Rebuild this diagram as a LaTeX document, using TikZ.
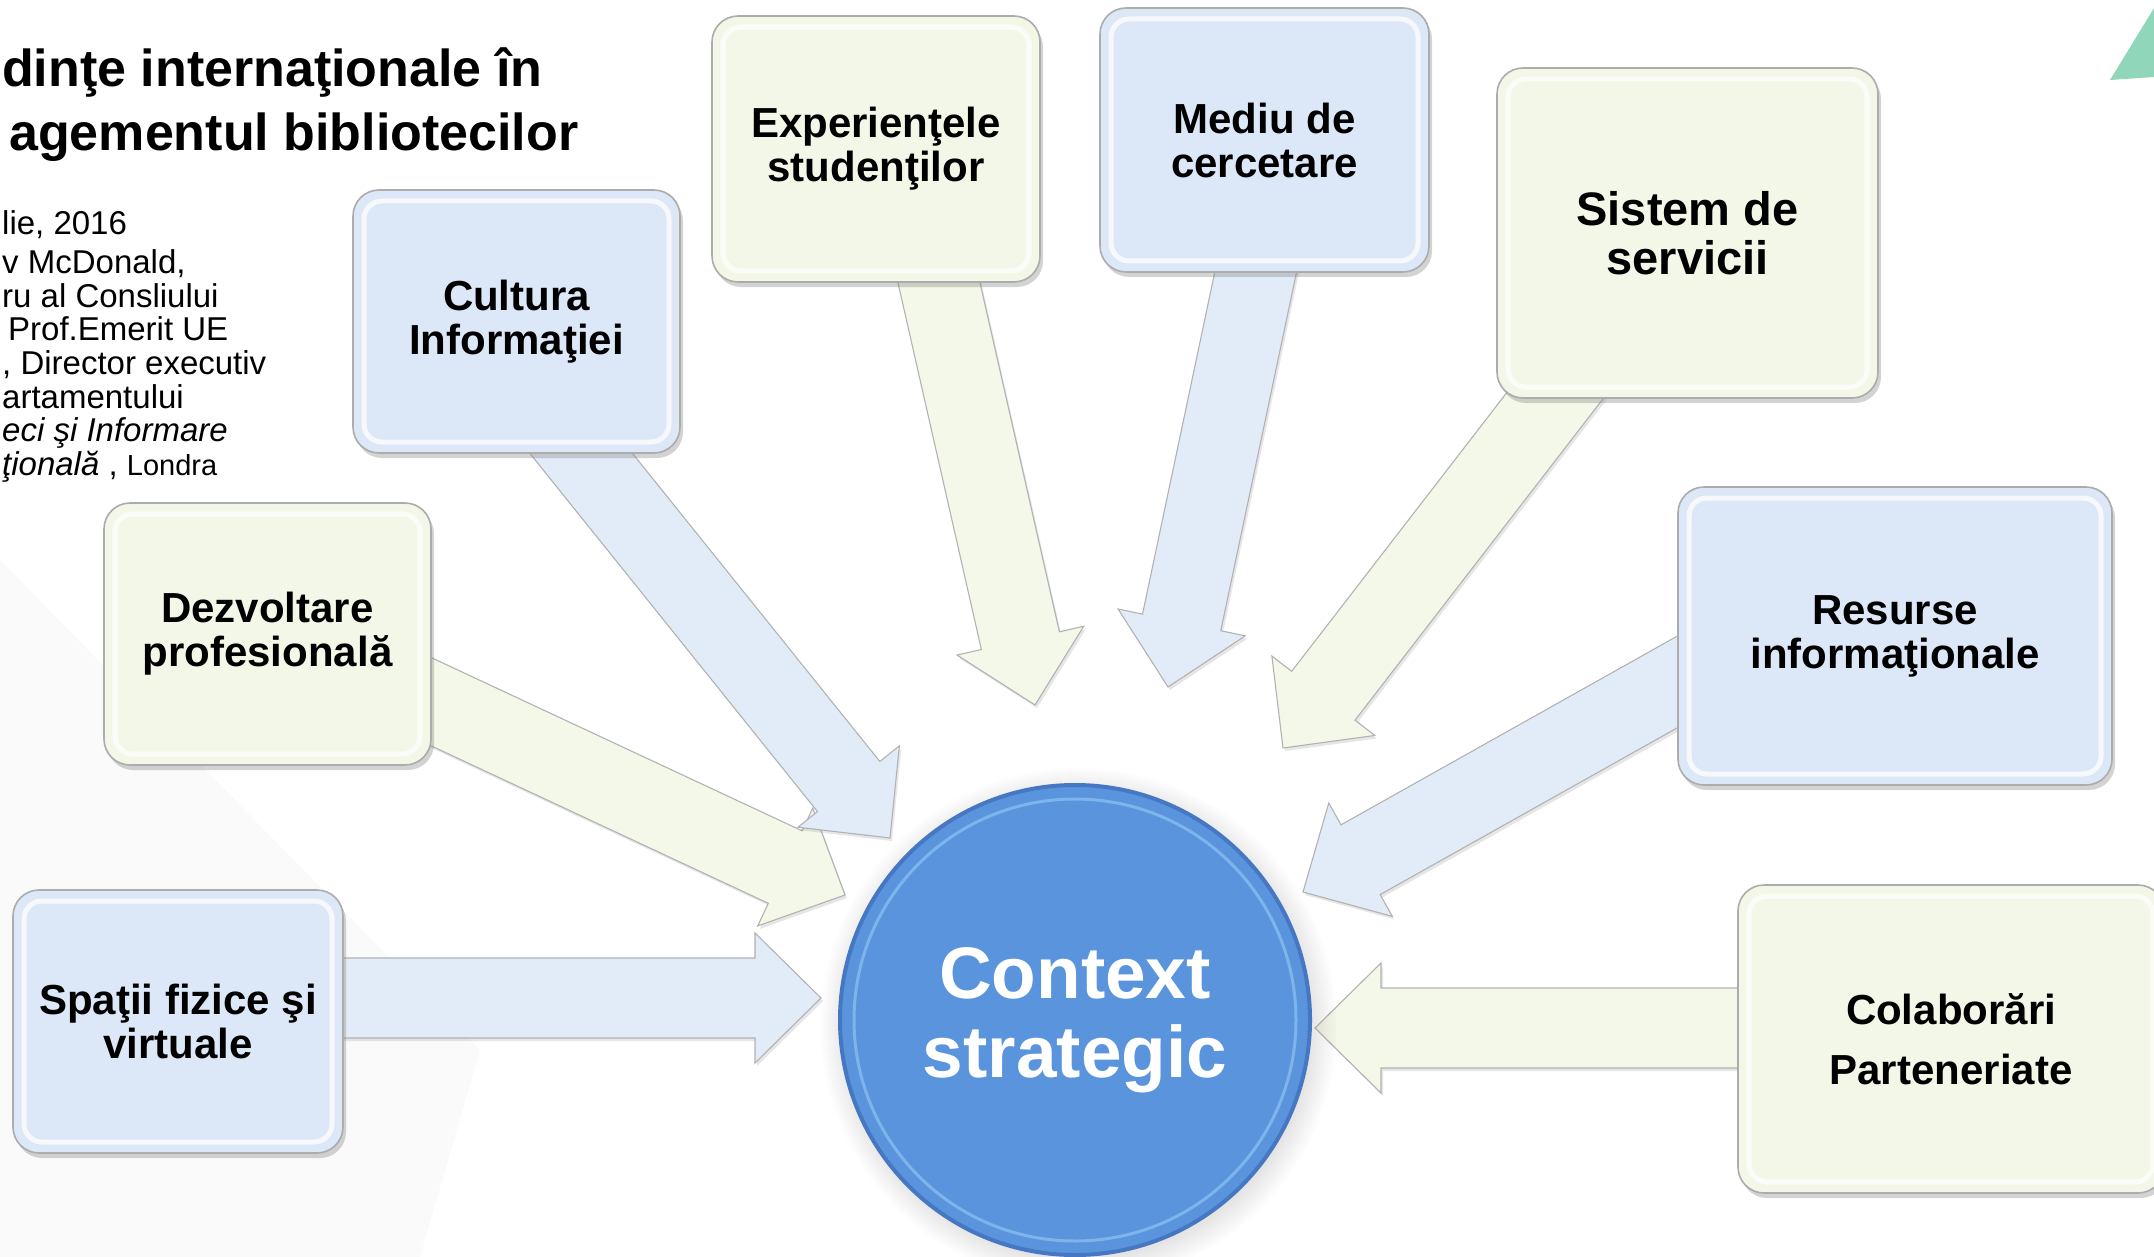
\documentclass[tikz,border=0pt]{standalone}
\usepackage{fontspec}
\setmainfont{Liberation Sans}
\usetikzlibrary{calc,shadows}
\definecolor{boxblue}{HTML}{DCE7F7}
\definecolor{arrblue}{HTML}{E2ECF9}
\definecolor{boxgreen}{HTML}{F3F7E7}
\definecolor{arrgreen}{HTML}{F3F8E8}
\definecolor{ctxblue}{HTML}{5A94DC}
\definecolor{ctxrim}{HTML}{4677C2}
\definecolor{ctxlight}{HTML}{86BDF0}
\definecolor{mint}{HTML}{8FD6BA}
\pgfdeclarelayer{bg}
\pgfsetlayers{bg,main}
\tikzset{
  infobox/.style  = {rounded corners=26pt,draw=gray!65,line width=1.6pt,align=center,
                     inner sep=0pt,font=\bfseries\fontsize{42}{44}\selectfont,
                     drop shadow={shadow xshift=3pt,shadow yshift=-5pt,opacity=.35},
                     path picture={\draw[white,opacity=.75,line width=5pt,rounded corners=18pt]
                       ([shift={(11pt,-11pt)}]path picture bounding box.north west) rectangle
                       ([shift={(-11pt,11pt)}]path picture bounding box.south east);}},
  boxsize/.style 2 args = {minimum width=#1pt,minimum height=#2pt},
  bluebox/.style  = {infobox,fill=boxblue},
  greenbox/.style = {infobox,fill=boxgreen},
  arr/.style      = {draw=gray!60,line width=1.1pt,line join=miter,
                     drop shadow={shadow xshift=2pt,shadow yshift=-3pt,opacity=.2}},
  bluearr/.style  = {arr,fill=arrblue},
  greenarr/.style = {arr,fill=arrgreen}
}
% block arrow: style, start on the box, tip
\newcommand{\blockarrow}[3]{%
  \coordinate (ba-a) at (#2);
  \coordinate (ba-t) at (#3);
  \coordinate (ba-s) at ($(ba-a)!-60pt!(ba-t)$);
  \coordinate (ba-h) at ($(ba-t)!66pt!(ba-a)$);
  \draw[#1] ($(ba-s)!40pt!90:(ba-t)$) -- ($(ba-h)!40pt!90:(ba-t)$) -- ($(ba-h)!65pt!90:(ba-t)$)
    -- (ba-t) -- ($(ba-h)!65pt!-90:(ba-t)$) -- ($(ba-h)!40pt!-90:(ba-t)$)
    -- ($(ba-s)!40pt!-90:(ba-t)$) -- cycle;
}

\begin{document}
\begin{tikzpicture}[x=1pt,y=-1pt]
  \useasboundingbox (0,0) rectangle (2154,1257);
  \fill[mint] (2110,80) -- (2154,8) -- (2154,77) -- cycle;

  % title and source
  \node[anchor=base west,inner sep=0pt,font=\bfseries\fontsize{52}{60}\selectfont] (title1) at (2,87) {dinţe internaţionale în};
  \node[anchor=base west,inner sep=0pt,font=\bfseries\fontsize{52}{60}\selectfont] (title2) at (9,151) {agementul bibliotecilor};
  \node[anchor=north west,align=left,inner sep=0pt,font=\fontsize{33}{33.6}\selectfont] (source) at (2,210)
    {lie, 2016\\[6pt]v McDonald,\\ru al Consliului\\\hspace*{6pt}Prof.Emerit UE\\, Director executiv\\artamentului\\
     \textit{eci şi Informare}\\\textit{ţională} , {\fontsize{29}{33.6}\selectfont Londra}};

  % boxes
  \node[bluebox,boxsize={327}{263}]  (cult) at (516.5,321.5) {Cultura\\Informaţiei};
  \node[greenbox,boxsize={328}{266}] (expe) at (876,149)     {Experienţele\\studenţilor};
  \node[bluebox,boxsize={329}{264}]  (medi) at (1264.5,140)  {Mediu de\\cercetare};
  \node[greenbox,boxsize={381}{330},font=\bfseries\fontsize{47}{49}\selectfont] (sist) at (1687.5,233) {Sistem de\\servicii};
  \node[bluebox,boxsize={434}{298}]  (resu) at (1895,636)    {Resurse\\informaţionale};
  \node[greenbox,boxsize={426}{308}] (cola) at (1951,1039)   {Colaborări\\[16pt]Parteneriate};
  \node[greenbox,boxsize={327}{262}] (dezv) at (267.5,634)   {Dezvoltare\\profesională};
  \node[bluebox,boxsize={330}{263}]  (spat) at (178,1021.5)  {Spaţii fizice şi\\virtuale};

  % centre
  \node[circle,minimum size=470pt,fill=ctxblue,draw=ctxrim,line width=4pt,text=white,align=center,
        font=\bfseries\fontsize{73}{79}\selectfont,
        circular drop shadow={shadow xshift=3pt,shadow yshift=-5pt,opacity=.3},
        path picture={\draw[ctxlight,line width=3pt,opacity=.8] (path picture bounding box.center) circle (221pt);}]
        (ctx) at (1075,1020) {Context\\strategic};

  \coordinate (tip-spat) at (821,998);
  \coordinate (tip-dezv) at (845,895);
  \coordinate (tip-cult) at (890,838);
  \coordinate (tip-expe) at (1035,705);
  \coordinate (tip-medi) at (1168,687);
  \coordinate (tip-sist) at (1283,748);
  \coordinate (tip-resu) at (1303,892);
  \coordinate (tip-cola) at (1315,1028);

  % arrows towards the centre
  \begin{pgfonlayer}{bg}
    \fill[black!2] (0,560) -- (480,1050) -- (420,1257) -- (0,1257) -- cycle;
    \blockarrow{bluearr}{$(spat.east)+(0,-23.5)$}{tip-spat}
    \blockarrow{greenarr}{$(dezv.east)+(0,68)$}{tip-dezv}
    \blockarrow{bluearr}{$(cult.south)+(65,0)$}{tip-cult}
    \blockarrow{greenarr}{$(expe.south)+(63,0)$}{tip-expe}
    \blockarrow{bluearr}{$(medi.south)+(-9,0)$}{tip-medi}
    \blockarrow{greenarr}{$(sist.south)+(-135,0)$}{tip-sist}
    \blockarrow{bluearr}{$(resu.west)+(0,46)$}{tip-resu}
    \blockarrow{greenarr}{$(cola.west)+(0,-11)$}{tip-cola}
  \end{pgfonlayer}
\end{tikzpicture}
\end{document}
